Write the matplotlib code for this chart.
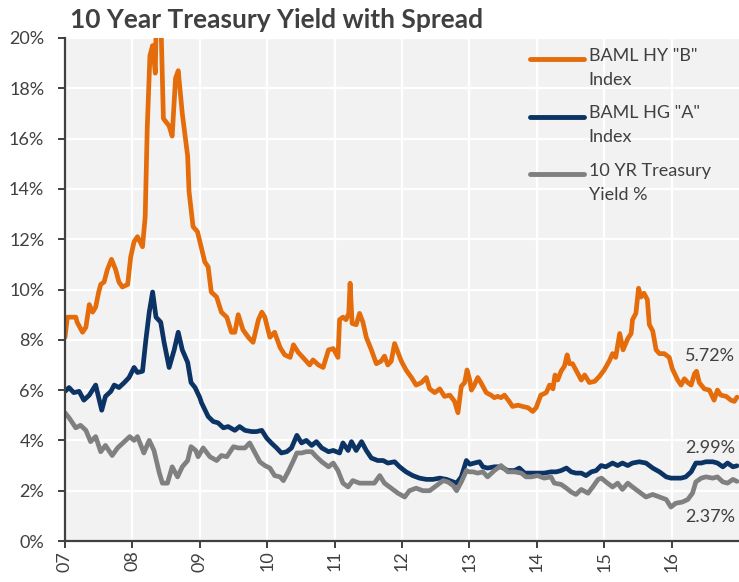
import numpy as np
import matplotlib
matplotlib.use("Agg")
import matplotlib.pyplot as plt
from matplotlib.legend_handler import HandlerLine2D

plt.rcParams['font.family'] = ['Lato', 'DejaVu Sans']

# ---------------- data (fractional years, percent) ----------------
hy_dates = [2007.00, 2007.035, 2007.08, 2007.16, 2007.18, 2007.26, 2007.31, 2007.36, 2007.41, 2007.455,
            2007.50, 2007.53, 2007.58, 2007.63, 2007.69, 2007.75, 2007.80, 2007.85, 2007.93, 2007.975,
            2008.025, 2008.075, 2008.15, 2008.19, 2008.22, 2008.26, 2008.30, 2008.34, 2008.36, 2008.42,
            2008.46, 2008.545, 2008.59, 2008.64, 2008.68, 2008.74, 2008.82, 2008.84, 2008.90, 2008.965,
            2009.02, 2009.074, 2009.124, 2009.17, 2009.25, 2009.32, 2009.40, 2009.47, 2009.52, 2009.57,
            2009.64, 2009.72, 2009.79, 2009.87, 2009.92, 2009.965, 2010.04, 2010.11, 2010.19, 2010.26,
            2010.34, 2010.39, 2010.46, 2010.53, 2010.63, 2010.68, 2010.76, 2010.83, 2010.91, 2010.98,
            2011.05, 2011.074, 2011.124, 2011.17, 2011.21, 2011.23, 2011.26, 2011.32, 2011.37, 2011.42,
            2011.47, 2011.545, 2011.62, 2011.69, 2011.74, 2011.79, 2011.84, 2011.89, 2011.94, 2011.99,
            2012.06, 2012.14, 2012.21, 2012.29, 2012.36, 2012.41, 2012.485, 2012.56, 2012.63, 2012.71,
            2012.78, 2012.83, 2012.88, 2012.93, 2012.965, 2013.005, 2013.03, 2013.074, 2013.124, 2013.17,
            2013.25, 2013.32, 2013.37, 2013.42, 2013.47, 2013.52, 2013.59, 2013.64, 2013.72, 2013.79,
            2013.87, 2013.94, 2013.99, 2014.06, 2014.14, 2014.19, 2014.24, 2014.27, 2014.31, 2014.36,
            2014.41, 2014.45, 2014.485, 2014.53, 2014.61, 2014.66, 2014.71, 2014.78, 2014.86, 2014.93,
            2015.00, 2015.074, 2015.124, 2015.17, 2015.23, 2015.28, 2015.35, 2015.40, 2015.42, 2015.47,
            2015.51, 2015.545, 2015.59, 2015.64, 2015.67, 2015.72, 2015.77, 2015.82, 2015.89, 2015.965,
            2016.01, 2016.09, 2016.14, 2016.19, 2016.24, 2016.29, 2016.34, 2016.37, 2016.41, 2016.485,
            2016.56, 2016.63, 2016.68, 2016.73, 2016.81, 2016.88, 2016.93, 2016.97]
hy_values = [8.1, 8.9, 8.9, 8.9, 8.7, 8.3, 8.5, 9.4, 9.1, 9.3,
             9.9, 10.2, 10.3, 10.8, 11.2, 10.8, 10.3, 10.1, 10.2, 11.3,
             11.9, 12.1, 11.7, 12.9, 16.4, 19.3, 19.7, 18.6, 21.8, 21.0,
             16.8, 16.5, 16.1, 18.4, 18.7, 17.0, 15.3, 13.9, 12.5, 12.3,
             11.7, 11.1, 10.9, 9.9, 9.7, 9.1, 8.9, 8.3, 8.3, 9.0,
             8.4, 8.1, 7.9, 8.8, 9.1, 8.9, 8.1, 8.3, 7.7, 7.4,
             7.3, 7.8, 7.5, 7.3, 7.0, 7.2, 7.0, 6.9, 7.6, 7.65,
             7.3, 8.8, 8.9, 8.8, 9.05, 10.25, 8.65, 8.6, 9.05, 8.7,
             8.1, 7.6, 7.05, 7.15, 7.35, 7.0, 7.15, 7.85, 7.5, 7.15,
             6.8, 6.5, 6.2, 6.3, 6.5, 6.05, 5.9, 6.05, 5.75, 5.8,
             5.55, 5.1, 6.15, 6.3, 6.8, 6.4, 6.0, 6.2, 6.5, 6.3,
             5.9, 5.8, 5.7, 5.75, 5.7, 5.8, 5.55, 5.35, 5.4, 5.35,
             5.3, 5.15, 5.3, 5.8, 5.9, 6.2, 6.05, 6.6, 6.4, 6.75,
             6.95, 7.4, 7.05, 7.05, 6.65, 6.4, 6.6, 6.3, 6.35, 6.55,
             6.8, 7.15, 7.45, 7.3, 8.25, 7.6, 8.05, 8.25, 8.8, 9.05,
             10.05, 9.7, 9.85, 9.6, 8.6, 8.35, 7.6, 7.45, 7.45, 7.3,
             6.85, 6.4, 6.2, 6.45, 6.3, 6.2, 6.65, 6.75, 6.3, 6.05,
             6.0, 5.6, 6.0, 5.8, 5.75, 5.6, 5.55, 5.72]

hg_dates = [2007.00, 2007.06, 2007.13, 2007.21, 2007.28, 2007.36, 2007.455, 2007.50, 2007.545, 2007.60,
            2007.68, 2007.73, 2007.80, 2007.88, 2007.95, 2008.025, 2008.075, 2008.15, 2008.20, 2008.25,
            2008.30, 2008.35, 2008.42, 2008.47, 2008.545, 2008.62, 2008.68, 2008.74, 2008.82, 2008.87,
            2008.93, 2009.00, 2009.025, 2009.124, 2009.20, 2009.27, 2009.35, 2009.42, 2009.52, 2009.59,
            2009.67, 2009.77, 2009.84, 2009.92, 2009.99, 2010.06, 2010.14, 2010.21, 2010.29, 2010.36,
            2010.44, 2010.51, 2010.58, 2010.66, 2010.73, 2010.81, 2010.91, 2010.98, 2011.074, 2011.124,
            2011.20, 2011.25, 2011.32, 2011.40, 2011.47, 2011.545, 2011.64, 2011.72, 2011.79, 2011.89,
            2011.965, 2012.06, 2012.16, 2012.26, 2012.36, 2012.46, 2012.56, 2012.66, 2012.76, 2012.81,
            2012.88, 2012.955, 2013.005, 2013.074, 2013.15, 2013.20, 2013.27, 2013.37, 2013.47, 2013.57,
            2013.67, 2013.74, 2013.82, 2013.92, 2014.01, 2014.11, 2014.21, 2014.29, 2014.36, 2014.44,
            2014.51, 2014.58, 2014.66, 2014.73, 2014.81, 2014.88, 2014.955, 2015.025, 2015.124, 2015.20,
            2015.27, 2015.35, 2015.42, 2015.52, 2015.62, 2015.72, 2015.82, 2015.92, 2015.99, 2016.06,
            2016.14, 2016.21, 2016.29, 2016.36, 2016.44, 2016.51, 2016.61, 2016.68, 2016.76, 2016.83,
            2016.91, 2016.97]
hg_values = [5.95, 6.1, 5.9, 5.95, 5.6, 5.8, 6.2, 5.7, 5.2, 5.75,
             5.95, 6.2, 6.1, 6.3, 6.5, 6.9, 6.7, 6.75, 8.0, 9.1,
             9.9, 8.9, 8.7, 7.9, 6.9, 7.6, 8.3, 7.6, 7.1, 6.3,
             6.1, 5.7, 5.5, 4.95, 4.75, 4.7, 4.5, 4.55, 4.4, 4.55,
             4.4, 4.35, 4.35, 4.4, 4.1, 3.9, 3.7, 3.5, 3.55, 3.7,
             4.2, 3.9, 4.0, 3.8, 3.95, 3.7, 3.55, 3.6, 3.5, 3.9,
             3.6, 3.95, 3.6, 3.95, 3.6, 3.3, 3.2, 3.2, 3.1, 3.15,
             2.95, 2.75, 2.6, 2.5, 2.45, 2.45, 2.5, 2.45, 2.35, 2.3,
             2.55, 3.2, 3.05, 3.1, 3.15, 2.95, 2.9, 2.95, 2.95, 2.8,
             2.8, 2.9, 2.7, 2.7, 2.7, 2.7, 2.75, 2.75, 2.8, 2.9,
             2.75, 2.7, 2.7, 2.6, 2.75, 2.8, 3.0, 2.95, 3.1, 3.0,
             3.1, 3.0, 3.1, 3.15, 3.1, 2.9, 2.75, 2.55, 2.5, 2.5,
             2.5, 2.55, 2.75, 3.1, 3.1, 3.15, 3.15, 3.1, 2.95, 3.1,
             2.95, 2.99]

ty_dates = [2007.00, 2007.06, 2007.16, 2007.23, 2007.31, 2007.38, 2007.455, 2007.53, 2007.60, 2007.70,
            2007.78, 2007.88, 2007.96, 2008.025, 2008.075, 2008.17, 2008.25, 2008.32, 2008.40, 2008.445,
            2008.52, 2008.59, 2008.67, 2008.74, 2008.82, 2008.87, 2008.94, 2008.975, 2009.05, 2009.15,
            2009.25, 2009.32, 2009.40, 2009.50, 2009.57, 2009.67, 2009.74, 2009.82, 2009.89, 2009.965,
            2010.04, 2010.11, 2010.19, 2010.24, 2010.31, 2010.39, 2010.44, 2010.51, 2010.58, 2010.66,
            2010.73, 2010.81, 2010.91, 2010.98, 2011.05, 2011.124, 2011.20, 2011.27, 2011.37, 2011.47,
            2011.59, 2011.67, 2011.74, 2011.84, 2011.94, 2012.04, 2012.11, 2012.21, 2012.31, 2012.41,
            2012.51, 2012.61, 2012.68, 2012.76, 2012.81, 2012.88, 2012.955, 2013.00, 2013.05, 2013.124,
            2013.20, 2013.27, 2013.37, 2013.47, 2013.57, 2013.67, 2013.77, 2013.84, 2013.92, 2014.01,
            2014.11, 2014.21, 2014.26, 2014.36, 2014.44, 2014.51, 2014.58, 2014.66, 2014.76, 2014.83,
            2014.91, 2014.96, 2015.025, 2015.124, 2015.20, 2015.27, 2015.35, 2015.42, 2015.52, 2015.62,
            2015.72, 2015.82, 2015.92, 2015.99, 2016.06, 2016.16, 2016.24, 2016.31, 2016.36, 2016.44,
            2016.51, 2016.61, 2016.68, 2016.76, 2016.83, 2016.91, 2016.97]
ty_values = [5.1, 4.9, 4.5, 4.6, 4.4, 3.95, 4.15, 3.55, 3.8, 3.4,
             3.7, 3.95, 4.15, 4.0, 4.15, 3.5, 4.0, 3.6, 2.7, 2.3,
             2.3, 2.95, 2.55, 2.95, 3.2, 3.75, 3.6, 3.35, 3.7, 3.35,
             3.2, 3.4, 3.35, 3.75, 3.7, 3.7, 3.9, 3.5, 3.15, 3.0,
             2.9, 2.6, 2.55, 2.4, 2.75, 3.2, 3.5, 3.5, 3.55, 3.55,
             3.35, 3.15, 2.95, 3.1, 2.8, 2.3, 2.15, 2.4, 2.3, 2.3,
             2.3, 2.6, 2.3, 2.1, 1.9, 1.75, 2.0, 2.1, 2.0, 2.0,
             2.2, 2.4, 2.35, 2.2, 2.0, 2.35, 2.8, 2.75, 2.75, 2.7,
             2.75, 2.55, 2.8, 3.0, 2.75, 2.75, 2.7, 2.55, 2.55, 2.6,
             2.5, 2.55, 2.3, 2.25, 2.1, 1.95, 1.85, 2.05, 1.9, 2.15,
             2.45, 2.5, 2.35, 2.15, 2.3, 2.05, 2.3, 2.15, 1.95, 1.75,
             1.85, 1.75, 1.65, 1.35, 1.5, 1.55, 1.65, 1.9, 2.35, 2.5,
             2.55, 2.5, 2.55, 2.35, 2.3, 2.45, 2.37]

series_labels = ['BAML HY "B"\nIndex', 'BAML HG "A"\nIndex', '10 YR Treasury\nYield %']
series_colors = ['#E46C0A', '#0B3364', '#808080']
end_labels = ['5.72%', '2.99%', '2.37%']
year_ticks = [2007, 2008, 2009, 2010, 2011, 2012, 2013, 2014, 2015, 2016]
year_labels = ['07', '08', '09', '10', '11', '12', '13', '14', '15', '16']
y_ticks = [0, 2, 4, 6, 8, 10, 12, 14, 16, 18, 20]
title = '10 Year Treasury Yield with Spread'

TXT = '#404040'

# ---------------- figure ----------------
fig = plt.figure(figsize=(7.39, 5.82), dpi=100)
ax = fig.add_axes([65 / 739, 41 / 582, 674 / 739, 503 / 582])
ax.set_facecolor('#F2F2F2')

lines = []
for d, v, c, lab in zip([hy_dates, hg_dates, ty_dates], [hy_values, hg_values, ty_values],
                        series_colors, series_labels):
    ln, = ax.plot(d, v, color=c, lw=3.4, label=lab, solid_joinstyle='round', solid_capstyle='round')
    lines.append(ln)

ax.set_xlim(2007, 2017.0)
ax.set_ylim(0, 20)
ax.set_xticks(year_ticks)
ax.set_xticklabels(year_labels, rotation=90)
ax.set_yticks(y_ticks)
ax.set_yticklabels([f'{t}%' for t in y_ticks])

ax.grid(True, color='white', lw=1.6)
ax.set_axisbelow(True)
for s in ['top', 'right']:
    ax.spines[s].set_visible(False)
for s in ['left', 'bottom']:
    ax.spines[s].set_color(TXT)
    ax.spines[s].set_linewidth(1.6)
ax.tick_params(axis='y', direction='out', length=5, width=1.4, color=TXT,
               labelsize=13, labelcolor=TXT, pad=10)
ax.tick_params(axis='x', direction='out', length=5, width=1.4, color=TXT,
               labelsize=13, labelcolor=TXT, pad=2)

# end-value labels
ends_y = [7.36, 3.70, 0.95]
for lab, yy in zip(end_labels, ends_y):
    ax.text(2016.57, yy, lab, ha='center', va='center', fontsize=13, color=TXT)


class UpHandler(HandlerLine2D):
    def __init__(self, dy, **kw):
        super().__init__(**kw)
        self.dy = dy

    def create_artists(self, legend, orig_handle, xdescent, ydescent, width, height, fontsize, trans):
        arts = super().create_artists(legend, orig_handle, xdescent, ydescent, width, height,
                                      fontsize, trans)
        for a in arts:
            a.set_ydata(np.asarray(a.get_ydata(), dtype=float) + self.dy)
        return arts


leg = ax.legend(handles=lines, loc='upper left', bbox_to_anchor=(530 / 739, 1 - 48 / 582),
                bbox_transform=fig.transFigure, frameon=False, fontsize=13,
                handlelength=3.0, handletextpad=0.25, borderpad=0, borderaxespad=0,
                labelspacing=0.98,
                handler_map={ln: UpHandler(6.5) for ln in lines})
for t in leg.get_texts():
    t.set_color(TXT)
    t.set_linespacing(1.6)
for h in leg.legend_handles:
    h.set_linewidth(3.5)

fig.text(70 / 739, 1 - 28 / 582, title, fontsize=19, fontweight='bold', color=TXT,
         ha='left', va='baseline')

fig.savefig('out.png', dpi=100)
